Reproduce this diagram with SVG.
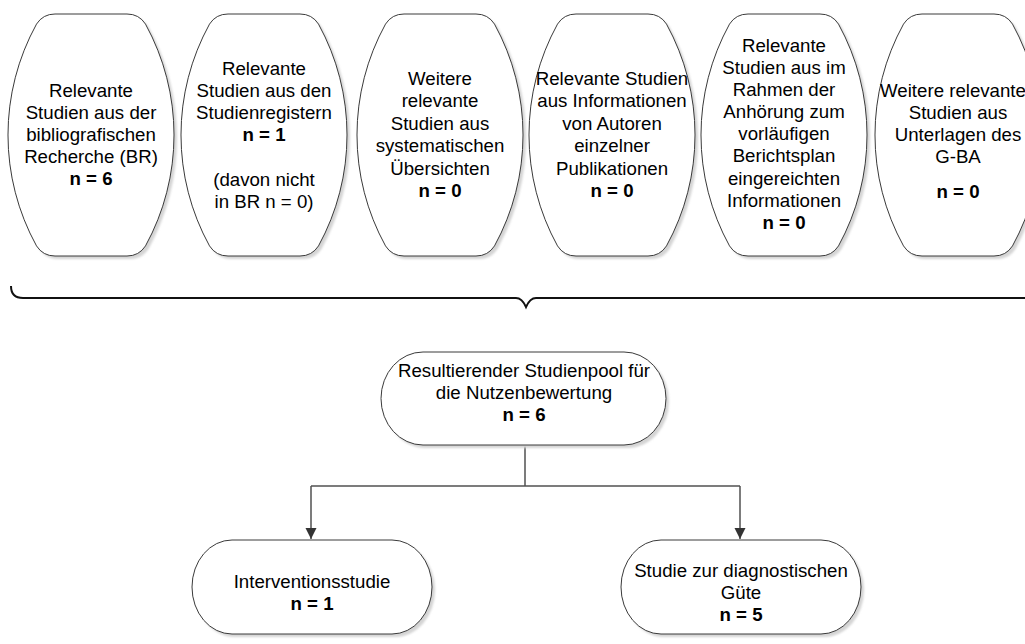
<svg xmlns="http://www.w3.org/2000/svg" width="1025" height="644" viewBox="0 0 1025 644">
  <defs>
    <style>
      .shape { fill: #ffffff; stroke: #3a3a3a; stroke-width: 1; }
      .shadow { fill: #d4d4d4; stroke: none; filter: url(#soft); }
      .t { font-family: "Liberation Sans", Arial, sans-serif; font-size: 18.67px; fill: #000000; text-anchor: middle; }
      .b { font-weight: bold; }
      .conn { fill: none; stroke: #505050; stroke-width: 1.5; }
      .brace { fill: none; stroke: #111111; stroke-width: 2; }
    </style>
    <filter id="soft" x="-10%" y="-10%" width="120%" height="120%">
      <feGaussianBlur stdDeviation="0.8"/>
    </filter>
    <marker id="arrow" markerUnits="userSpaceOnUse" markerWidth="12" markerHeight="12" viewBox="0 0 12 12" refX="11" refY="6" orient="auto">
      <path d="M0,0.5 L11,6 L0,11.5 Z" fill="#333333"/>
    </marker>
    <!-- tall source box: flat top/bottom, circular-arc sides with rounded corners, 166 x 242 -->
    <path id="tall" d="M47,0 H119 Q131,0 137.5,10.1 A230,230 0 0 1 137.5,231.9 Q131,242 119,242 H47 Q35,242 28.5,231.9 A230,230 0 0 1 28.5,10.1 Q35,0 47,0 Z"/>
  </defs>

  <!-- Source boxes -->
  <g id="node-br">
    <use href="#tall" class="shadow" x="11" y="17"/>
    <use href="#tall" class="shape" x="8" y="14"/>
    <text class="t" x="91" y="97">Relevante</text>
    <text class="t" x="91" y="119">Studien aus der</text>
    <text class="t" x="91" y="141">bibliografischen</text>
    <text class="t" x="91" y="163">Recherche (BR)</text>
    <text class="t b" x="91" y="185">n = 6</text>
  </g>

  <g id="node-registers">
    <use href="#tall" class="shadow" x="184" y="17"/>
    <use href="#tall" class="shape" x="181" y="14"/>
    <text class="t" x="264" y="75">Relevante</text>
    <text class="t" x="264" y="97">Studien aus den</text>
    <text class="t" x="264" y="119">Studienregistern</text>
    <text class="t b" x="264" y="141">n = 1</text>
    <text class="t" x="264" y="186">(davon nicht</text>
    <text class="t" x="264" y="208">in BR n = 0)</text>
  </g>

  <g id="node-reviews">
    <use href="#tall" class="shadow" x="360" y="17"/>
    <use href="#tall" class="shape" x="357" y="14"/>
    <text class="t" x="440" y="85">Weitere</text>
    <text class="t" x="440" y="107">relevante</text>
    <text class="t" x="440" y="130">Studien aus</text>
    <text class="t" x="440" y="152">systematischen</text>
    <text class="t" x="440" y="175">Übersichten</text>
    <text class="t b" x="440" y="197">n = 0</text>
  </g>

  <g id="node-authors">
    <use href="#tall" class="shadow" x="532" y="17"/>
    <use href="#tall" class="shape" x="529" y="14"/>
    <text class="t" x="612" y="85">Relevante Studien</text>
    <text class="t" x="612" y="107">aus Informationen</text>
    <text class="t" x="612" y="130">von Autoren</text>
    <text class="t" x="612" y="152">einzelner</text>
    <text class="t" x="612" y="175">Publikationen</text>
    <text class="t b" x="612" y="197">n = 0</text>
  </g>

  <g id="node-hearing">
    <use href="#tall" class="shadow" x="704" y="17"/>
    <use href="#tall" class="shape" x="701" y="14"/>
    <text class="t" x="784" y="52">Relevante</text>
    <text class="t" x="784" y="74">Studien aus im</text>
    <text class="t" x="784" y="96">Rahmen der</text>
    <text class="t" x="784" y="118">Anhörung zum</text>
    <text class="t" x="784" y="140">vorläufigen</text>
    <text class="t" x="784" y="162">Berichtsplan</text>
    <text class="t" x="784" y="185">eingereichten</text>
    <text class="t" x="784" y="207">Informationen</text>
    <text class="t b" x="784" y="229">n = 0</text>
  </g>

  <g id="node-gba">
    <use href="#tall" class="shadow" x="878" y="17"/>
    <use href="#tall" class="shape" x="875" y="14"/>
    <text class="t" x="953" y="97">Weitere relevante</text>
    <text class="t" x="958" y="119">Studien aus</text>
    <text class="t" x="958" y="141">Unterlagen des</text>
    <text class="t" x="958" y="163">G-BA</text>
    <text class="t b" x="958" y="198">n = 0</text>
  </g>

  <!-- Connectors: brace collecting the sources, and the split into study types -->
  <g id="connectors">
    <path class="brace" d="M11,286 Q11,298 23,298 H516 Q522,298 526,307 Q530,298 536,298 H1030"/>
    <path class="conn" d="M525,446 V486"/>
    <path class="conn" d="M311,486 H740"/>
    <path class="conn" d="M311,486 V539" marker-end="url(#arrow)"/>
    <path class="conn" d="M740,486 V539" marker-end="url(#arrow)"/>
  </g>

  <!-- Resulting pool -->
  <g id="node-pool">
    <rect class="shadow" x="384" y="355" width="285" height="93" rx="42" ry="46.5"/>
    <rect class="shape" x="381" y="352" width="285" height="93" rx="42" ry="46.5"/>
    <text class="t" x="524" y="377">Resultierender Studienpool für</text>
    <text class="t" x="524" y="399">die Nutzenbewertung</text>
    <text class="t b" x="524" y="421">n = 6</text>
  </g>

  <g id="node-intervention">
    <rect class="shadow" x="195" y="543" width="240" height="94" rx="40" ry="47"/>
    <rect class="shape" x="192" y="540" width="240" height="94" rx="40" ry="47"/>
    <text class="t" x="312" y="588">Interventionsstudie</text>
    <text class="t b" x="312" y="610">n = 1</text>
  </g>

  <g id="node-diagnostic">
    <rect class="shadow" x="624" y="543" width="240" height="94" rx="40" ry="47"/>
    <rect class="shape" x="621" y="540" width="240" height="94" rx="40" ry="47"/>
    <text class="t" x="741" y="577">Studie zur diagnostischen</text>
    <text class="t" x="741" y="599">Güte</text>
    <text class="t b" x="741" y="621">n = 5</text>
  </g>
</svg>
